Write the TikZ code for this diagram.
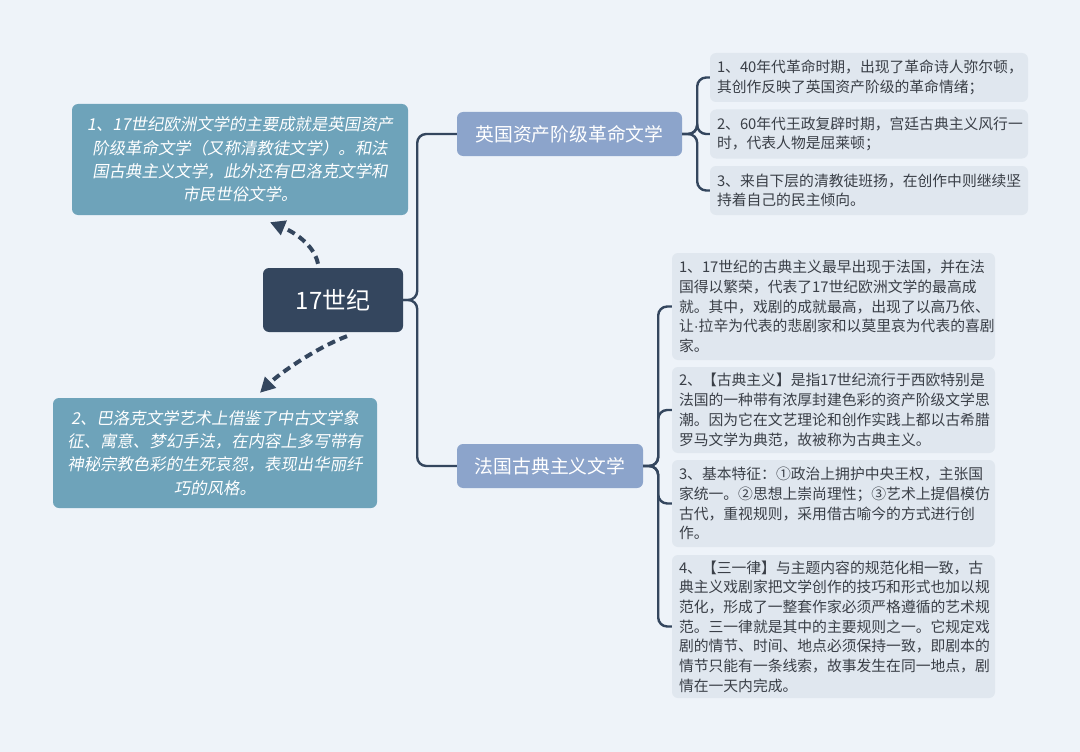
\documentclass[tikz,border=0pt]{standalone}
\usepackage{fontspec}
\setmainfont{Noto Sans CJK SC}
\newfontfamily\slantcjk[FakeSlant=0.18]{Noto Sans CJK SC}
\newfontfamily\dotfont{Liberation Sans}
\usetikzlibrary{arrows.meta,positioning,calc}

\definecolor{bgcol}{HTML}{EEF3F9}
\definecolor{rootcol}{HTML}{34465E}
\definecolor{branchcol}{HTML}{8CA4CB}
\definecolor{notecol}{HTML}{6EA3BA}
\definecolor{leafcol}{HTML}{E0E7EF}
\definecolor{leaftext}{HTML}{3A3F47}

\tikzset{
  rootbox/.style={fill=rootcol,rounded corners=6pt,text=white,minimum width=140pt,minimum height=64pt,font=\fontsize{24}{28}\selectfont},
  branchbox/.style={fill=branchcol,rounded corners=6pt,text=white,minimum height=44pt,font=\fontsize{18.8}{22}\selectfont},
  notebox/.style={fill=notecol,rounded corners=6pt,text=white,align=center,inner xsep=6pt,font=\slantcjk\fontsize{16.4}{23.3}\selectfont},
  leafbox/.style={fill=leafcol,rounded corners=6pt,text=leaftext,align=left,inner xsep=7pt,font=\fontsize{14.8}{19.7}\selectfont},
  conn/.style={draw=rootcol,line width=2.4pt,rounded corners=9pt},
  dasharrow/.style={draw=rootcol,line width=4pt,dash pattern=on 8pt off 5pt,-{Triangle[length=15pt,width=15pt]}}
}

\begin{document}
\begin{tikzpicture}[x=1pt,y=-1pt]
\fill[bgcol] (0,0) rectangle (1080,752);
\useasboundingbox (0,0) rectangle (1080,752);

\node[rootbox] (root) at (333,300) {17世纪};

\node[branchbox,minimum width=225pt] (eng) at (569.5,134) {英国资产阶级革命文学};
\node[branchbox,minimum width=186pt] (fra) at (550,466) {法国古典主义文学};

\node[notebox,text width=324pt,minimum height=111pt] (note1) at (240,159.5) {1、17世纪欧洲文学的主要成就是英国资产\\阶级革命文学（又称清教徒文学）。和法\\国古典主义文学，此外还有巴洛克文学和\\市民世俗文学。};
\node[notebox,text width=312pt,minimum height=110pt] (note2) at (215,453) {2、巴洛克文学艺术上借鉴了中古文学象\\征、寓意、梦幻手法，在内容上多写带有\\神秘宗教色彩的生死哀怨，表现出华丽纤\\巧的风格。};

\node[leafbox,text width=304pt,minimum height=49pt] (eng1) at (869,77.5) {1、40年代革命时期，出现了革命诗人弥尔顿，\\其创作反映了英国资产阶级的革命情绪；};
\node[leafbox,text width=304pt,minimum height=49pt] (eng2) at (869,134) {2、60年代王政复辟时期，宫廷古典主义风行一\\时，代表人物是屈莱顿；};
\node[leafbox,text width=304pt,minimum height=49pt] (eng3) at (869,190.5) {3、来自下层的清教徒班扬，在创作中则继续坚\\持着自己的民主倾向。};

\node[leafbox,text width=309pt,minimum height=107pt] (fra1) at (833.5,306.5) {1、17世纪的古典主义最早出现于法国，并在法\\国得以繁荣，代表了17世纪欧洲文学的最高成\\就。其中，戏剧的成就最高，出现了以高乃依、\\让{\dotfont ·}拉辛为代表的悲剧家和以莫里哀为代表的喜剧\\家。};
\node[leafbox,text width=309pt,minimum height=86pt] (fra2) at (833.5,410) {2、【古典主义】是指17世纪流行于西欧特别是\\法国的一种带有浓厚封建色彩的资产阶级文学思\\潮。因为它在文艺理论和创作实践上都以古希腊\\罗马文学为典范，故被称为古典主义。};
\node[leafbox,text width=309pt,minimum height=87pt] (fra3) at (833.5,503.5) {3、基本特征：①政治上拥护中央王权，主张国\\家统一。②思想上崇尚理性；③艺术上提倡模仿\\古代，重视规则，采用借古喻今的方式进行创\\作。};
\node[leafbox,text width=309pt,minimum height=143pt] (fra4) at (833.5,626.5) {4、【三一律】与主题内容的规范化相一致，古\\典主义戏剧家把文学创作的技巧和形式也加以规\\范化，形成了一整套作家必须严格遵循的艺术规\\范。三一律就是其中的主要规则之一。它规定戏\\剧的情节、时间、地点必须保持一致，即剧本的\\情节只能有一条线索，故事发生在同一地点，剧\\情在一天内完成。};

\draw[conn] (root.east) -- ++(14,0) |- (eng.west);
\draw[conn] (root.east) -- ++(14,0) |- (fra.west);

\foreach \leaf in {eng1,eng2,eng3}
  \draw[conn] (eng.east) -- ++(15,0) |- (\leaf.west);
\foreach \leaf in {fra1,fra2,fra3,fra4}
  \draw[conn] (fra.east) -- ++(15,0) |- (\leaf.west);

\draw[dasharrow] ([xshift=-15pt,yshift=4pt]root.north) .. controls +(-4,-20) and +(22,9) .. ([xshift=30pt,yshift=-7pt]note1.south);
\draw[dasharrow] ([xshift=14pt,yshift=-4pt]root.south) .. controls +(-32,12) and +(18,-18) .. ([xshift=45pt,yshift=5pt]note2.north);
\end{tikzpicture}
\end{document}
